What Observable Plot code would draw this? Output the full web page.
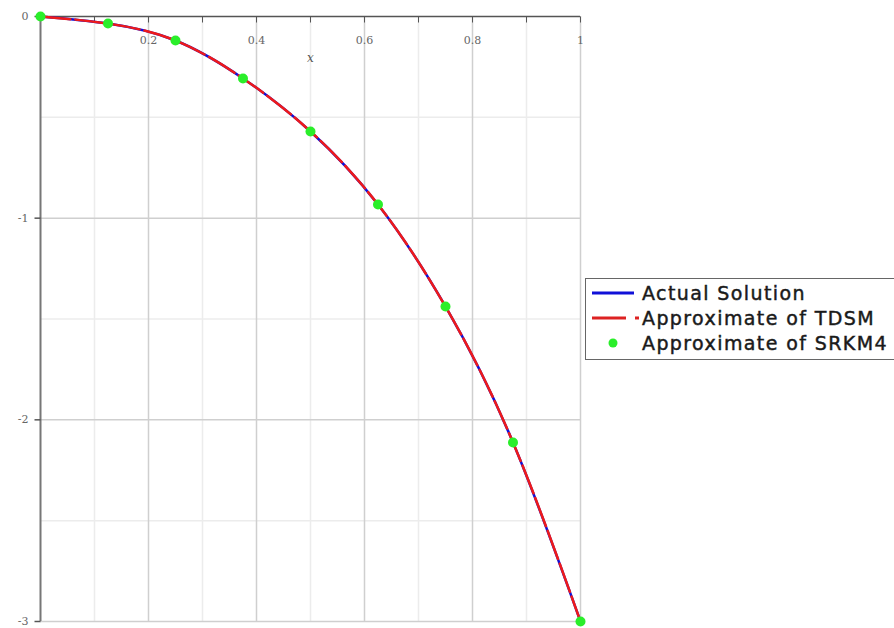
<!DOCTYPE html>
<html><head><meta charset="utf-8">
<script src="https://cdn.jsdelivr.net/npm/d3@7"></script>
<script src="https://cdn.jsdelivr.net/npm/@observablehq/plot@0.6"></script>
<style>
body{margin:0;background:#fff}
#wrap{position:relative;width:894px;height:628px;overflow:hidden;background:#fff}
#legend{position:absolute;left:585px;top:278px;width:330px;height:80px;border:1.5px solid #666;background:#fff;font-family:"DejaVu Sans",sans-serif;font-size:19px;color:#1a1a1a}
.row{position:absolute;left:0;height:26px;width:330px}
.row svg{position:absolute;left:0;top:0}
.row span{position:absolute;left:56px;top:2px;line-height:22px;white-space:nowrap;letter-spacing:1.4px;-webkit-text-stroke:0.45px #1a1a1a}
</style></head><body><div id="wrap"><div id="legend"></div></div>
<script>
const xNodes = [0, 0.125, 0.25, 0.375, 0.5, 0.625, 0.75, 0.875, 1];
const actual = [0, -0.035, -0.119, -0.307, -0.570, -0.932, -1.438, -2.112, -3];
const tdsm   = [0, -0.035, -0.119, -0.307, -0.570, -0.932, -1.438, -2.112, -3];
const srkm4  = [0, -0.035, -0.119, -0.307, -0.570, -0.932, -1.438, -2.112, -3];
const xMajor = [0.2, 0.4, 0.6, 0.8, 1];
const xMinor = [0.1, 0.3, 0.5, 0.7, 0.9];
const yMajor = [-1, -2, -3];
const yMinor = [-0.5, -1.5, -2.5];
const yTicks = [0, -1, -2, -3];
const xLabel = "x";
const legendLabels = ["Actual Solution", "Approximate of TDSM", "Approximate of SRKM4"];

const data = xNodes.map((x, i) => ({x, actual: actual[i], tdsm: tdsm[i], srkm4: srkm4[i]}));
const xTicksAll = [...xMinor, ...xMajor];

const vTick = {draw(ctx) { ctx.moveTo(0, 0); ctx.lineTo(0, 6); }};
const hTick = {draw(ctx) { ctx.moveTo(-6, 0); ctx.lineTo(0, 0); }};

const chart = Plot.plot({
  width: 894, height: 628,
  marginLeft: 40, marginRight: 314, marginTop: 16, marginBottom: 7,
  x: {domain: [0, 1], axis: null},
  y: {domain: [-3, 0], axis: null},
  style: {background: "#fff"},
  marks: [
    Plot.ruleX(xMinor, {stroke: "#ececec", strokeWidth: 1.5}),
    Plot.ruleY(yMinor, {stroke: "#ececec", strokeWidth: 1.5}),
    Plot.ruleX(xMajor, {stroke: "#cfcfcf", strokeWidth: 1.5}),
    Plot.ruleY(yMajor, {stroke: "#cfcfcf", strokeWidth: 1.5}),
    Plot.ruleY([0], {stroke: "#555", strokeWidth: 1.5}),
    Plot.ruleX([0], {stroke: "#777", strokeWidth: 2}),
    Plot.dot(xTicksAll, {x: d => d, y: 0, symbol: vTick, fill: "none", stroke: "#555", strokeWidth: 1}),
    Plot.dot(yTicks, {x: 0, y: d => d, symbol: hTick, fill: "none", stroke: "#555", strokeWidth: 1.5}),
    Plot.text(xMajor, {x: d => d, y: 0, dy: 24, text: d => String(d), fill: "#666", fontSize: 11, fontFamily: "DejaVu Serif"}),
    Plot.text(yTicks, {x: 0, y: d => d, dx: -12, textAnchor: "end", text: d => String(d), fill: "#666", fontSize: 11, fontFamily: "DejaVu Serif"}),
    Plot.text([xLabel], {x: 0.5, y: 0, dy: 42, text: d => d, fill: "#555", fontSize: 12, fontStyle: "italic", fontFamily: "DejaVu Serif"}),
    Plot.line(data, {x: "x", y: "actual", stroke: "#1010d8", strokeWidth: 2.5, curve: "natural"}),
    Plot.line(data, {x: "x", y: "tdsm", stroke: "#ee1a1a", strokeWidth: 2.5, strokeDasharray: "30,5", curve: "natural"}),
    Plot.dot(data, {x: "x", y: "srkm4", r: 5, fill: "#2aee2a", stroke: "none"})
  ]
});
const wrap = document.getElementById("wrap");
wrap.insertBefore(chart, wrap.firstChild);
chart.style.position = "absolute"; chart.style.left = "0"; chart.style.top = "0";

const legend = d3.select("#legend");
const swatches = [
  g => g.append("line").attr("x1", 6).attr("x2", 48).attr("y1", 13).attr("y2", 13).attr("stroke", "#1010d8").attr("stroke-width", 3),
  g => { g.append("line").attr("x1", 6).attr("x2", 40).attr("y1", 13).attr("y2", 13).attr("stroke", "#dd2222").attr("stroke-width", 3);
         g.append("line").attr("x1", 49).attr("x2", 53).attr("y1", 13).attr("y2", 13).attr("stroke", "#dd2222").attr("stroke-width", 3); },
  g => g.append("circle").attr("cx", 27).attr("cy", 13).attr("r", 4.5).attr("fill", "#2aee2a")
];
legendLabels.forEach((lab, i) => {
  const row = legend.append("div").attr("class", "row").style("top", (1 + i * 25) + "px");
  const svg = row.append("svg").attr("width", 56).attr("height", 26);
  swatches[i](svg);
  row.append("span").text(lab);
});
</script></body></html>
